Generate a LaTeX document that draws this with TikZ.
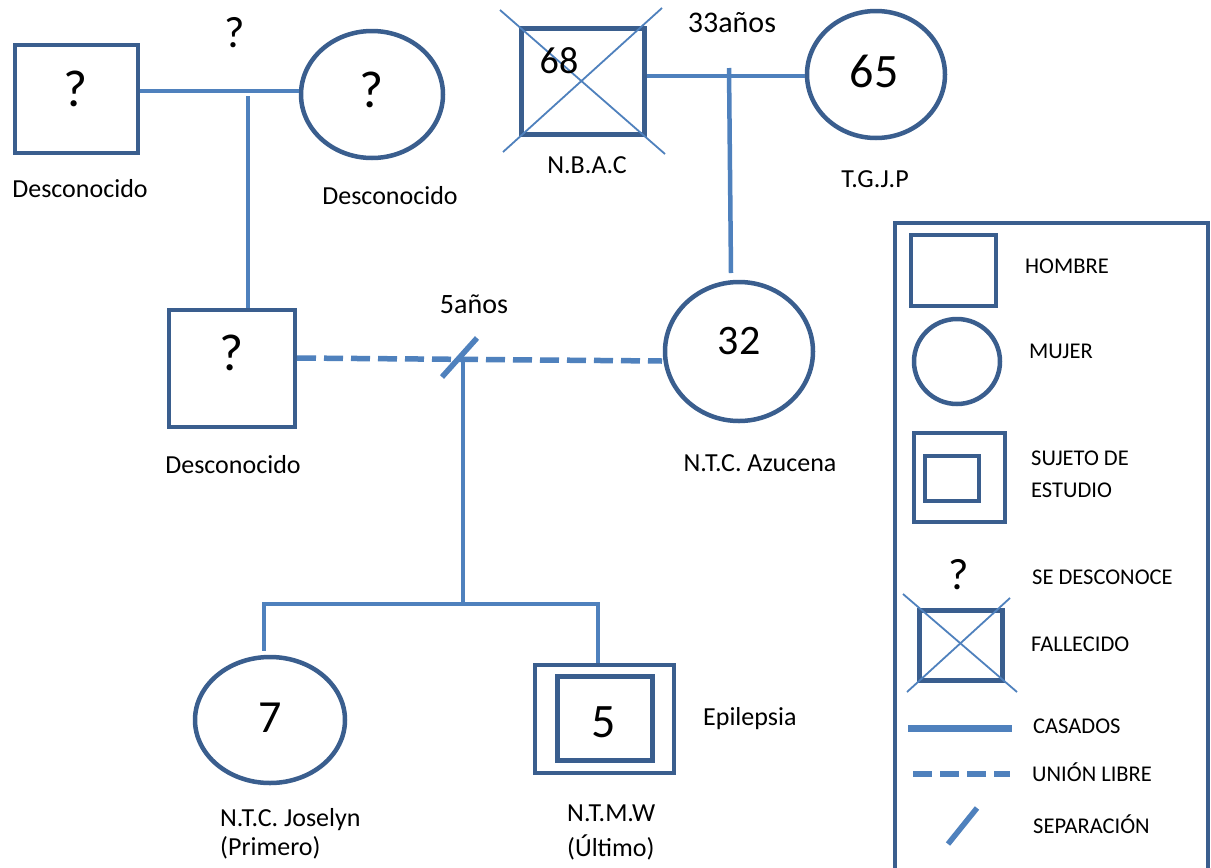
\documentclass[tikz,border=0pt]{standalone}
\usepackage{fontspec}
\setmainfont{Carlito}
\usetikzlibrary{shapes.geometric}
\definecolor{shp}{HTML}{3A5E8E}
\definecolor{lnk}{HTML}{4F81BD}
\tikzset{
  person/.style={draw=shp, line width=4.5pt, inner sep=0pt},
  sq/.style={person, rectangle},
  circ/.style={person, ellipse},
  link/.style={draw=lnk, line width=4.5pt},
  union/.style={draw=lnk, line width=5.5pt, dash pattern=on 19pt off 8pt},
  xline/.style={draw=lnk, line width=1.8pt},
  sepline/.style={draw=lnk, line width=5.5pt},
  lbl/.style={anchor=base, inner sep=0pt, font=\fontsize{26}{30}\selectfont},
  lbll/.style={anchor=base west, inner sep=0pt, font=\fontsize{26}{30}\selectfont},
  leg/.style={anchor=base west, inner sep=0pt, font=\fontsize{22.5}{26}\selectfont},
  num/.style={anchor=base, inner sep=0pt, font=\fontsize{#1}{#1}\selectfont}
}
\begin{document}
\begin{tikzpicture}[x=1pt,y=-1pt]
\useasboundingbox[fill=white] (0,0) rectangle (1211,868);

% ---- generation 1 (left couple)
\node[sq, minimum width=123pt, minimum height=108pt] (sq1) at (76.5,99) {};
\node[circ, minimum width=142pt, minimum height=127pt] (el1) at (372,94.5) {};
\node[num=52] (q1) at (76,106) {?};
\node[num=52] (q2) at (372,107) {?};
\node[num=44] (q0) at (235,47) {?};
\node[lbl] (l1) at (80,197) {Desconocido};
\node[lbl] (l2) at (390,204) {Desconocido};

% ---- generation 1 (right couple)
\node[sq, line width=5pt, minimum width=123pt, minimum height=106pt] (sqD) at (582.5,81) {};
\node[circ, minimum width=138pt, minimum height=127pt] (el65) at (876,74.5) {};
\draw[xline] (500,10) -- (665,154);
\draw[xline] (662,8) -- (503,152);
\node[num=38] (n68) at (559,73) {68};
\node[num=48] (n65) at (874,87) {65};
\node[num=30] (y33) at (732,32) {33años};
\node[lbl] (l3) at (587,173) {N.B.A.C};
\node[lbl] (l4) at (875,187) {T.G.J.P};

% ---- generation 2
\node[sq, minimum width=126pt, minimum height=117pt] (sq2) at (232,368.5) {};
\node[circ, minimum width=148pt, minimum height=139pt] (el32) at (739,351.5) {};
\node[num=52] (q3) at (232,370) {?};
\node[num=42] (n32) at (739,354) {32};
\node[num=28] (y5) at (474,313) {5años};
\node[lbl] (l5) at (233,473) {Desconocido};
\node[lbl] (l6) at (760,471) {N.T.C. Azucena};

% ---- generation 3
\node[circ, minimum width=150pt, minimum height=126pt] (el7) at (270,720) {};
\node[num=46] (n7) at (270,732) {7};
\node[sq, minimum width=139pt, minimum height=108pt] (sq5o) at (604.5,719) {};
\node[sq, line width=5pt, minimum width=95pt, minimum height=84pt] (sq5i) at (604.5,718) {};
\node[num=48] (n5) at (604,737) {5};
\node[lbll] (l7a) at (220,826) {N.T.C. Joselyn};
\node[lbll] (l7b) at (220,855) {(Primero)};
\node[lbll] (l8a) at (567,821) {N.T.M.W};
\node[lbll] (l8b) at (567,856) {(Último)};
\node[lbll] (ep) at (703,725) {Epilepsia};

% ---- connectors
\coordinate (j1) at (247,91);
\draw[link] (sq1.east |- j1) -- (el1.west |- j1);
\coordinate (c1) at (248,96);
\draw[link] (c1) -- (c1 |- sq2.north);

\coordinate (j2) at (729,76);
\draw[link] (sqD.east |- j2) -- (el65.west |- j2);
\coordinate (c2) at (729,68);
\coordinate (c2b) at (731,273);
\draw[link] (c2) -- (c2b);

\coordinate (u1) at (297,358);
\coordinate (u2) at (662,361);
\draw[union] (u1) -- (u2);
\coordinate (s1) at (442,377);
\coordinate (s2) at (477,338);
\draw[sepline] (s1) -- (s2);
\coordinate (k0) at (463,362);
\coordinate (k1) at (463,604);
\draw[link] (k0) -- (k1);
\coordinate (kl) at (264,604);
\coordinate (kr) at (598,604);
\draw[link, line join=miter] (kl |- el7.north) ++(0,-4) -- (kl) -- (kr) -- (kr |- sq5o.north);

% ---- legend
\draw[draw=shp, line width=4pt] (895,872) -- (895,223) -- (1208,223) -- (1208,872);
\node[sq, minimum width=85pt, minimum height=71pt] (lgH) at (953.5,270.5) {};
\node[leg] (tH) at (1025,273) {HOMBRE};
\node[circ, minimum width=86pt, minimum height=85pt] (lgM) at (957,361.5) {};
\node[leg] (tM) at (1029,358) {MUJER};
\node[sq, minimum width=91pt, minimum height=89pt] (lgSo) at (959.5,477.5) {};
\node[sq, minimum width=54pt, minimum height=45pt] (lgSi) at (952,478.5) {};
\node[leg] (tS1) at (1031,465) {SUJETO DE};
\node[leg] (tS2) at (1031,497) {ESTUDIO};
\node[num=44] (lgQ) at (959,589) {?};
\node[leg] (tQ) at (1032,584) {SE DESCONOCE};
\node[sq, line width=5pt, minimum width=83pt, minimum height=70pt] (lgF) at (960.5,645) {};
\draw[xline] (903,594) -- (1017,692);
\draw[xline] (907,692) -- (1010,598);
\node[leg] (tF) at (1031,651) {FALLECIDO};
\coordinate (lc1) at (908,728);
\coordinate (lc2) at (1012,728);
\draw[draw=lnk, line width=7pt] (lc1) -- (lc2);
\node[leg] (tC) at (1033,733) {CASADOS};
\coordinate (lu1) at (913,774);
\coordinate (lu2) at (1010,774);
\draw[union] (lu1) -- (lu2);
\node[leg] (tU) at (1032,781) {UNIÓN LIBRE};
\coordinate (ls1) at (948,844);
\coordinate (ls2) at (977,808);
\draw[sepline] (ls1) -- (ls2);
\node[leg] (tP) at (1033,833) {SEPARACIÓN};
\end{tikzpicture}
\end{document}
